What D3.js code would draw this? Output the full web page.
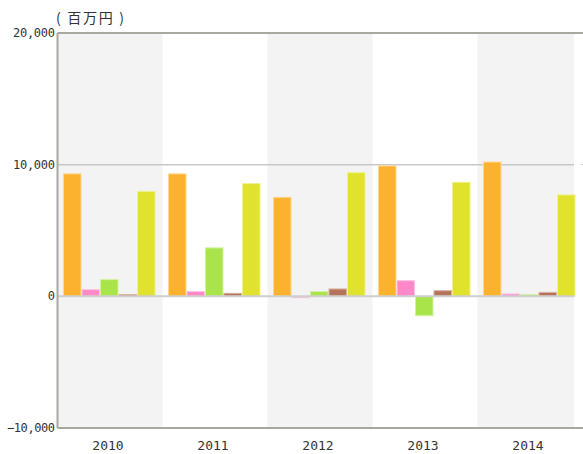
<!DOCTYPE html>
<html lang="ja">
<head>
<meta charset="utf-8">
<script src="https://d3js.org/d3.v7.min.js"></script>
<style>
  body { margin: 0; background: #fff; }
  text { font-family: "DejaVu Sans Mono", "Noto Sans CJK JP", monospace; }
</style>
</head>
<body>
<script>
// data (百万円)
var years = ["2010", "2011", "2012", "2013", "2014"];
var seriesNames = ["s1", "s2", "s3", "s4", "s5"];
var s1 = [9300, 9300, 7520, 9900, 10200];
var s2 = [510, 360, -100, 1190, 180];
var s3 = [1270, 3680, 360, -1470, 130];
var s4 = [130, 230, 560, 430, 300];
var s5 = [7970, 8560, 9390, 8660, 7700];
var yTicks = [20000, 10000, 0, -10000];
var colors = ["#fdb22f", "#ff88c8", "#a9e44b", "#b4735a", "#e1e22e"];
var strokes = ["#ffd68e", "#ffc2e2", "#d2f29f", "#d8b2a2", "#f0f08e"];

var w = 583, h = 454;
var plotLeft = 57.5, plotTop = 33, plotBottom = 428, clipRight = 574;

var svg = d3.select("body").append("svg")
  .attr("width", w).attr("height", h);

var x = d3.scaleBand().domain(years).range([plotLeft, plotLeft + 105 * 5]);
var xs = d3.scaleBand().domain(seriesNames).range([5.5, 98]);
var y = d3.scaleLinear().domain([-10000, 20000]).range([plotBottom, plotTop]);

var values = [s1, s2, s3, s4, s5];

// alternating band shading
svg.selectAll("rect.band")
  .data(years.filter(function(d, i) { return i % 2 == 0; }))
  .enter().append("rect")
  .attr("class", "band")
  .attr("x", function(d) { return x(d); })
  .attr("y", plotTop)
  .attr("width", function(d) { return Math.min(x.bandwidth(), clipRight - x(d)); })
  .attr("height", plotBottom - plotTop)
  .attr("fill", "#f3f3f3");

// gridline at 10,000
svg.append("line")
  .attr("x1", plotLeft).attr("x2", clipRight)
  .attr("y1", y(10000)).attr("y2", y(10000))
  .attr("stroke", "#c8c8c8").attr("stroke-width", 1.5);
svg.append("line")
  .attr("x1", 581).attr("x2", 583)
  .attr("y1", y(10000)).attr("y2", y(10000))
  .attr("stroke", "#c8c8c8").attr("stroke-width", 1);

// bars
var groups = svg.selectAll("g.year")
  .data(years)
  .enter().append("g")
  .attr("class", "year")
  .attr("transform", function(d) { return "translate(" + x(d) + ",0)"; });

groups.selectAll("rect")
  .data(function(d, i) {
    return seriesNames.map(function(s, k) { return { s: s, k: k, v: values[k][i] }; });
  })
  .enter().append("rect")
  .attr("x", function(d) { return xs(d.s) + 0.5; })
  .attr("width", xs.bandwidth() - 1)
  .attr("y", function(d) { return y(Math.max(0, d.v)); })
  .attr("height", function(d) { return Math.abs(y(d.v) - y(0)); })
  .attr("fill", function(d) { return colors[d.k]; })
  .attr("stroke", function(d) { return strokes[d.k]; })
  .attr("stroke-width", 1);

// zero line
svg.append("line")
  .attr("x1", plotLeft).attr("x2", clipRight)
  .attr("y1", y(0)).attr("y2", y(0))
  .attr("stroke", "#cfcfcf").attr("stroke-width", 2);

// frame lines
svg.append("line")
  .attr("x1", plotLeft).attr("x2", w)
  .attr("y1", plotTop).attr("y2", plotTop)
  .attr("stroke", "#a8a8a0").attr("stroke-width", 2);
svg.append("line")
  .attr("x1", plotLeft).attr("x2", w)
  .attr("y1", plotBottom).attr("y2", plotBottom)
  .attr("stroke", "#a8a8a0").attr("stroke-width", 2);
svg.append("line")
  .attr("x1", plotLeft).attr("x2", plotLeft)
  .attr("y1", plotTop).attr("y2", plotBottom)
  .attr("stroke", "#a8a8a0").attr("stroke-width", 2);

// y tick labels
svg.selectAll("text.ytick")
  .data(yTicks)
  .enter().append("text")
  .attr("class", "ytick")
  .attr("x", 55)
  .attr("y", function(d) { return y(d) + 4; })
  .attr("text-anchor", "end")
  .attr("font-size", 12)
  .attr("fill", "#333")
  .attr("textLength", function(d) { return d < 0 ? 48 : 42; })
  .text(function(d) { return d3.format(",")(d); });

// x labels
svg.selectAll("text.xtick")
  .data(years)
  .enter().append("text")
  .attr("class", "xtick")
  .attr("x", function(d) { return x(d) + x.bandwidth() / 2 - 2; })
  .attr("y", 450)
  .attr("text-anchor", "middle")
  .attr("font-size", 13)
  .attr("fill", "#333")
  .text(function(d) { return d; });

// unit
svg.append("text")
  .attr("x", 56).attr("y", 23)
  .attr("font-size", 14)
  .attr("fill", "#333")
  .attr("textLength", 68)
  .style("font-family", "'Noto Sans CJK JP'")
  .text("( 百万円 )");
</script>
</body>
</html>
